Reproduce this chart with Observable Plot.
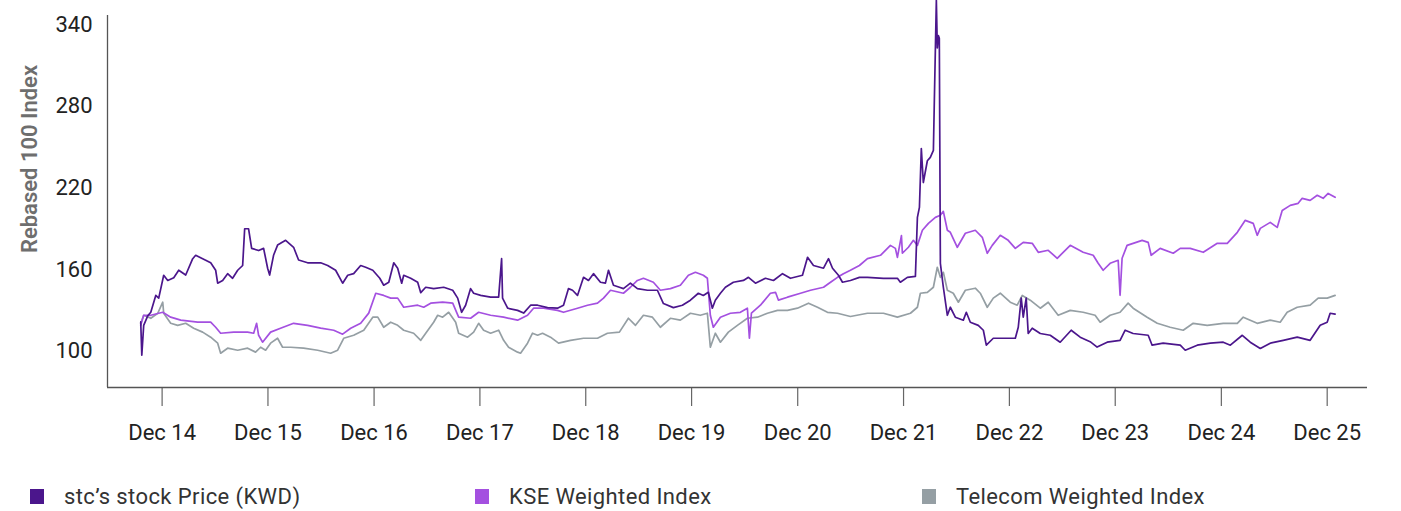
<!DOCTYPE html>
<html><head><meta charset="utf-8">
<script src="https://cdn.jsdelivr.net/npm/d3@7"></script>
<script src="https://cdn.jsdelivr.net/npm/@observablehq/plot@0.6"></script>
<style>
body{margin:0;background:#fff;font-family:Roboto,sans-serif;}
#wrap{position:relative;width:1401px;height:511px;overflow:hidden;}
#legend{position:absolute;left:0;top:482px;width:1401px;height:28px;}
.item{position:absolute;top:0;height:28px;display:flex;align-items:center;font-size:22px;letter-spacing:0.4px;color:#333;white-space:nowrap;}
.sw{width:14px;height:15px;margin-right:20px;flex:none;}
#ytitle{position:absolute;left:29px;top:159px;transform:translate(-50%,-50%) rotate(-90deg);font-size:22px;font-weight:600;color:#6e6e6e;white-space:nowrap;}
</style></head>
<body><div id="wrap"><div id="chart"></div><div id="ytitle"></div><div id="legend"></div></div>
<script>
// Time in decimal years, values as Rebased 100 Index
const stcT = [2014.713,2014.723,2014.741,2014.779,2014.808,2014.855,2014.883,2014.930,2014.968,2015.025,2015.072,2015.138,2015.204,2015.232,2015.298,2015.374,2015.421,2015.440,2015.487,2015.534,2015.581,2015.629,2015.676,2015.695,2015.732,2015.761,2015.827,2015.874,2015.912,2015.931,2015.968,2016.006,2016.082,2016.157,2016.204,2016.289,2016.412,2016.478,2016.553,2016.619,2016.667,2016.723,2016.789,2016.836,2016.903,2016.969,2017.006,2017.054,2017.101,2017.138,2017.176,2017.195,2017.261,2017.327,2017.356,2017.403,2017.478,2017.573,2017.658,2017.705,2017.742,2017.780,2017.827,2017.856,2017.922,2018.016,2018.092,2018.120,2018.129,2018.177,2018.271,2018.328,2018.394,2018.460,2018.554,2018.648,2018.705,2018.752,2018.790,2018.837,2018.894,2018.941,2018.988,2019.054,2019.101,2019.130,2019.177,2019.233,2019.271,2019.337,2019.403,2019.498,2019.592,2019.649,2019.743,2019.828,2019.904,2019.979,2020.026,2020.073,2020.111,2020.139,2020.187,2020.234,2020.309,2020.404,2020.451,2020.517,2020.611,2020.687,2020.772,2020.847,2020.960,2021.008,2021.064,2021.159,2021.206,2021.244,2021.300,2021.338,2021.413,2021.498,2021.574,2021.725,2021.857,2021.885,2021.951,2022.027,2022.046,2022.065,2022.083,2022.102,2022.140,2022.168,2022.197,2022.206,2022.225,2022.234,2022.244,2022.253,2022.263,2022.291,2022.329,2022.357,2022.404,2022.480,2022.508,2022.546,2022.621,2022.669,2022.697,2022.763,2022.857,2022.971,2022.999,2023.027,2023.046,2023.074,2023.093,2023.131,2023.207,2023.301,2023.395,2023.499,2023.584,2023.678,2023.744,2023.839,2023.961,2024.009,2024.084,2024.226,2024.263,2024.367,2024.528,2024.575,2024.688,2024.811,2024.933,2025.000,2025.113,2025.188,2025.283,2025.377,2025.500,2025.632,2025.754,2025.849,2025.915,2025.943,2025.990];
const stcV = [121.5,97,119,126,128.6,141,139,155.8,152,154,159.5,156,168,170.5,168,165,159.5,150,152,157,153.6,159.5,163,190,190,175.6,174,175.6,161,156,170.5,178,181.5,176.4,167,165,165,163,159.5,150,155.8,157,163,161.7,159.5,153.6,148.5,150.7,165,161,150,155.8,153.6,150.7,143,147,146,147,144.8,139,128.6,133.8,146,142.6,141,139.7,139.7,168,139,131.6,130,128,133.8,133.8,132,131.6,133.8,146,144.8,141,154.3,152,157,150.7,150,159.5,148.5,147,146,150,146,144.8,144.8,135,132,133.8,137.5,142.6,141,143.3,131.6,137.5,142.6,147,150.7,152,154.3,150,153.6,152,157,153.6,155.8,169,163,161,168,161,155.8,150.7,152,154.3,154.3,153.6,153.6,150.7,154.3,155,198.4,205.7,249,224,240,242.5,247.6,284,358,323,332,330,164.6,147,126.4,132.3,125,122.8,128.6,121.3,119,115.4,104.4,109.5,109.5,109.5,117.6,139,125,139,113,116.9,113,111.7,106.6,115.4,110.3,107,103,106.6,108,115.4,113,111.7,104.4,105.9,104.4,100.7,104.4,105.9,106.6,104.4,111.7,106.6,102,105.9,108,110.3,108,119,121.3,127.9,127.2];

const kseT = [2014.713,2014.741,2014.808,2014.921,2014.996,2015.091,2015.251,2015.374,2015.421,2015.468,2015.591,2015.723,2015.780,2015.808,2015.827,2015.864,2015.940,2016.034,2016.157,2016.289,2016.412,2016.535,2016.619,2016.695,2016.789,2016.865,2016.931,2017.006,2017.072,2017.138,2017.195,2017.327,2017.384,2017.450,2017.563,2017.658,2017.714,2017.827,2017.903,2018.016,2018.139,2018.271,2018.365,2018.422,2018.516,2018.648,2018.705,2018.837,2018.932,2019.026,2019.083,2019.149,2019.271,2019.337,2019.403,2019.460,2019.554,2019.620,2019.715,2019.809,2019.885,2019.951,2020.026,2020.064,2020.092,2020.120,2020.187,2020.281,2020.375,2020.441,2020.460,2020.479,2020.564,2020.658,2020.706,2020.734,2020.819,2020.942,2021.036,2021.159,2021.225,2021.291,2021.347,2021.413,2021.498,2021.574,2021.697,2021.791,2021.838,2021.857,2021.895,2021.904,2021.961,2022.008,2022.046,2022.093,2022.150,2022.216,2022.263,2022.291,2022.329,2022.357,2022.423,2022.499,2022.593,2022.659,2022.706,2022.753,2022.829,2022.904,2022.971,2023.046,2023.131,2023.188,2023.282,2023.367,2023.490,2023.612,2023.707,2023.754,2023.801,2023.867,2023.943,2023.961,2023.980,2024.027,2024.084,2024.169,2024.226,2024.254,2024.339,2024.462,2024.528,2024.622,2024.745,2024.877,2024.971,2025.066,2025.141,2025.216,2025.254,2025.283,2025.377,2025.443,2025.490,2025.566,2025.641,2025.679,2025.754,2025.821,2025.877,2025.924,2025.990];
const kseV = [119,126.4,126.4,128.6,125,122.8,121.3,121.3,117.6,113.2,114,114,113.2,120.5,111.7,106.6,114,116.9,120.5,119,116.9,115.4,112.5,116.9,120.5,128,142.6,141,139,139,132.3,133.8,132.3,135.3,136,135.3,125,124.2,128.6,126.4,125,122.8,126.4,131.6,131.6,130,128.6,131.6,133.8,135.3,139,144.8,142.6,147,152,153.6,150.7,144.8,146,148.5,155.8,158,155.8,153.6,126.4,117.6,125,127.9,128.6,131.6,109.5,127.9,133.8,142.6,143.3,137.5,139.7,142.6,144.8,147,150.7,154.3,157,159.5,163,168,170.5,177.8,175.6,169,185,172,176.4,181.5,177.8,188.9,194,198.4,199.9,202.8,188.9,187.4,176.4,186.7,188.9,183.7,172,177.8,185.2,181.5,175.6,180,179.3,172.7,174.2,168.3,177.8,172.7,170.5,164.6,159.5,164.6,166.8,141.1,168.3,177.8,179.3,181.5,180,170.5,175.6,172,175.6,175.6,172.7,179.3,179.3,187.4,196.2,194,185.2,190.3,194.7,191,203.5,207.2,208.7,212.4,210.9,214.6,212.4,216,213.1];

const telT = [2014.713,2014.741,2014.808,2014.874,2014.921,2014.930,2014.996,2015.062,2015.138,2015.213,2015.298,2015.374,2015.440,2015.468,2015.534,2015.629,2015.723,2015.798,2015.846,2015.893,2015.940,2016.006,2016.053,2016.129,2016.251,2016.384,2016.506,2016.572,2016.629,2016.723,2016.818,2016.903,2016.950,2017.006,2017.072,2017.138,2017.195,2017.289,2017.356,2017.403,2017.478,2017.516,2017.563,2017.620,2017.686,2017.714,2017.799,2017.856,2017.903,2017.950,2018.016,2018.092,2018.139,2018.186,2018.271,2018.299,2018.365,2018.412,2018.460,2018.507,2018.582,2018.658,2018.771,2018.894,2019.026,2019.120,2019.233,2019.318,2019.385,2019.460,2019.545,2019.620,2019.715,2019.809,2019.904,2019.998,2020.064,2020.092,2020.139,2020.187,2020.262,2020.347,2020.441,2020.536,2020.630,2020.725,2020.819,2020.913,2021.017,2021.102,2021.196,2021.291,2021.413,2021.574,2021.725,2021.857,2021.980,2022.046,2022.074,2022.140,2022.197,2022.234,2022.263,2022.291,2022.329,2022.385,2022.433,2022.499,2022.593,2022.640,2022.706,2022.763,2022.829,2022.923,2022.989,2023.037,2023.112,2023.207,2023.282,2023.376,2023.490,2023.612,2023.725,2023.773,2023.867,2023.961,2024.037,2024.084,2024.216,2024.311,2024.433,2024.556,2024.650,2024.782,2024.933,2025.066,2025.122,2025.254,2025.377,2025.471,2025.537,2025.632,2025.754,2025.830,2025.915,2025.990];
const telV = [120.5,126.4,124.2,127.9,136,127.9,120.5,119,120.5,116.9,114,110.3,105.9,98.5,102.2,100.7,102.2,99.3,102.9,100.7,105.9,109.5,102.9,102.9,102.2,100.7,98.5,100.7,109.5,111.7,115.4,125,125,117.6,121.3,119,115.4,113.2,108,113.2,121.3,126.4,125,128.6,121.3,113.2,110.3,114,120.5,115.4,113.2,115.4,108,102.9,99.3,98.5,105.9,113.2,111.7,113.2,110.3,105.9,108,109.5,109.5,113.2,114,124.2,119,126.4,125,117.6,124.2,122.8,127.9,126.4,127.9,102.9,113.2,106.6,114,119,124.2,125,127.9,130,130,131.6,135.3,132.3,128.6,127.9,125.5,127.9,127.9,125,127.9,132.3,142.6,143.3,147,161.7,154.3,158,144.8,142.6,136,144.8,146.3,142.6,132.3,139,142.6,136,133.8,141,137.5,131.6,136,126.4,130,128.6,126.4,121.3,126.4,128.6,135.3,131.6,125,120.5,117.6,115.4,120.5,119,120.5,120.5,125,120.5,122.8,121.3,128.6,132.3,133.8,139,139,141];

const seriesNames = ["stc\u2019s stock Price (KWD)", "KSE Weighted Index", "Telecom Weighted Index"];
const seriesColors = ["#4b168c", "#a450e0", "#959fa4"];
const tickYears = [2014,2015,2016,2017,2018,2019,2020,2021,2022,2023,2024,2025];
const yTicks = [100,160,220,280,340];
const yTitle = "Rebased 100 Index";

const toDate = t => { const y = Math.floor(t); const s = Date.UTC(y,0,1), e = Date.UTC(y+1,0,1); return new Date(s + (t - y) * (e - s)); };
const build = (T, V, name) => T.map((t, i) => ({date: toDate(t), value: V[i], series: name}));
const stcData = build(stcT, stcV, seriesNames[0]);
const kseData = build(kseT, kseV, seriesNames[1]);
const telData = build(telT, telV, seriesNames[2]);
const xStart = toDate(2014.399), xEnd = toDate(2026.296);
const yMin = 73.3, yMax = 346.8;
const tickDates = tickYears.map(y => new Date(Date.UTC(y, 11, 1)));

const chart = Plot.plot({
  width: 1401, height: 450,
  marginLeft: 107, marginRight: 34, marginTop: 15, marginBottom: 63,
  style: {fontFamily: "Roboto, sans-serif", fontSize: "22px", color: "#222", background: "#fff", overflow: "visible"},
  x: {type: "utc", domain: [xStart, xEnd]},
  y: {domain: [yMin, yMax]},
  marks: [
    Plot.axisX({ticks: tickDates, tickFormat: d3.utcFormat("%b %y"), tickSize: 19, tickPadding: 18, label: null, stroke: "#666", strokeWidth: 1.2, fill: "#222"}),
    Plot.axisY({ticks: yTicks, tickSize: 0, tickPadding: 15, label: null, fill: "#222"}),
    Plot.ruleX([xStart], {stroke: "#555", strokeWidth: 1.3}),
    Plot.ruleY([yMin], {stroke: "#555", strokeWidth: 1.3}),
    Plot.line(telData, {x: "date", y: "value", stroke: seriesColors[2], strokeWidth: 1.7}),
    Plot.line(kseData, {x: "date", y: "value", stroke: seriesColors[1], strokeWidth: 1.7}),
    Plot.line(stcData, {x: "date", y: "value", stroke: seriesColors[0], strokeWidth: 1.7})
  ]
});
document.getElementById("chart").appendChild(chart);
document.getElementById("ytitle").textContent = yTitle;

const legendLeft = [30, 475, 922];
const legend = document.getElementById("legend");
seriesNames.forEach((n, i) => {
  const it = document.createElement("div");
  it.className = "item";
  it.style.left = legendLeft[i] + "px";
  const sw = document.createElement("span");
  sw.className = "sw";
  sw.style.background = seriesColors[i];
  const tx = document.createElement("span");
  tx.textContent = n;
  it.appendChild(sw); it.appendChild(tx);
  legend.appendChild(it);
});
</script>
</body></html>
